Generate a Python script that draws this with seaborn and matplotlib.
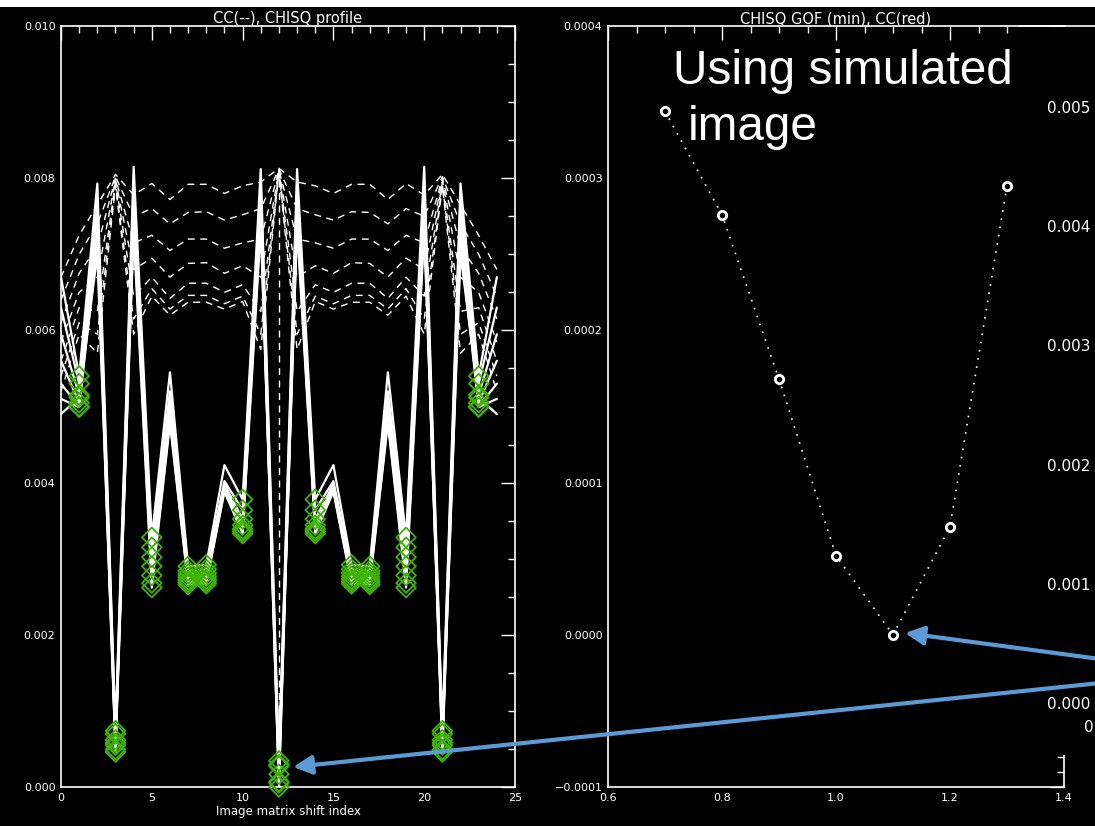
import matplotlib
matplotlib.use("Agg")
import matplotlib.pyplot as plt
from matplotlib.ticker import MultipleLocator, FuncFormatter
from matplotlib.patches import Rectangle, FancyArrowPatch
from matplotlib.lines import Line2D
import pandas as pd
import seaborn as sns

W, H = 1095, 826

# ---------------------------------------------------------------- data
shift_index = list(range(25))
scale_factors = [0.7, 0.8, 0.9, 1.0, 1.1, 1.2, 1.3]

# cross-correlation profiles (units of 1e-3), one per scale factor
cc_07 = [6.70, 7.25, 7.65, 8.05, 7.78, 7.93, 7.72, 7.92, 7.92, 7.80, 7.90, 7.95, 8.13,
         7.95, 7.90, 7.80, 7.92, 7.92, 7.72, 7.93, 7.78, 8.05, 7.65, 7.25, 6.80]
cc_08 = [6.40, 7.00, 7.40, 8.02, 7.50, 7.60, 7.40, 7.55, 7.56, 7.45, 7.52, 7.60, 8.12,
         7.60, 7.52, 7.45, 7.56, 7.55, 7.40, 7.60, 7.50, 8.02, 7.40, 7.00, 6.45]
cc_09 = [6.10, 6.75, 7.10, 8.00, 7.15, 7.25, 7.05, 7.20, 7.20, 7.08, 7.15, 7.20, 8.11,
         7.20, 7.15, 7.08, 7.20, 7.20, 7.05, 7.25, 7.15, 8.00, 7.10, 6.75, 6.15]
cc_10 = [5.85, 6.50, 6.70, 7.98, 6.80, 6.95, 6.70, 6.88, 6.89, 6.75, 6.85, 6.70, 8.10,
         6.70, 6.85, 6.75, 6.89, 6.88, 6.70, 6.95, 6.80, 7.98, 6.70, 6.50, 5.85]
cc_11 = [5.60, 6.30, 6.25, 7.95, 6.45, 6.70, 6.42, 6.62, 6.62, 6.50, 6.60, 6.25, 8.09,
         6.25, 6.60, 6.50, 6.62, 6.62, 6.42, 6.70, 6.45, 7.95, 6.25, 6.30, 5.60]
cc_12 = [5.40, 6.10, 5.95, 7.92, 6.15, 6.55, 6.28, 6.46, 6.46, 6.35, 6.45, 5.95, 8.08,
         5.95, 6.45, 6.35, 6.46, 6.46, 6.28, 6.55, 6.15, 7.92, 5.95, 6.10, 5.40]
cc_13 = [5.20, 5.95, 5.70, 7.90, 5.95, 6.45, 6.20, 6.37, 6.37, 6.28, 6.38, 5.75, 8.07,
         5.75, 6.38, 6.28, 6.37, 6.37, 6.20, 6.45, 5.95, 7.90, 5.70, 5.95, 5.20]

# chi-square profiles (units of 1e-3), one per scale factor
chisq_07 = [6.70, 5.40, 7.93, 0.74, 8.15, 3.28, 5.45, 2.90, 2.92, 4.23, 3.78, 8.12, 0.344,
            8.12, 3.78, 4.23, 2.92, 2.90, 5.45, 3.28, 8.15, 0.74, 7.93, 5.40, 6.70]
chisq_08 = [6.30, 5.30, 7.75, 0.70, 7.95, 3.15, 5.20, 2.84, 2.86, 4.02, 3.64, 7.95, 0.276,
            7.95, 3.64, 4.02, 2.86, 2.84, 5.20, 3.15, 7.95, 0.70, 7.75, 5.30, 6.30]
chisq_09 = [5.95, 5.15, 7.60, 0.62, 7.80, 3.02, 5.05, 2.80, 2.81, 3.98, 3.52, 7.80, 0.168,
            7.80, 3.52, 3.98, 2.81, 2.80, 5.05, 3.02, 7.80, 0.62, 7.60, 5.15, 5.95]
chisq_10 = [5.60, 5.05, 7.45, 0.55, 7.65, 2.90, 4.95, 2.76, 2.77, 3.95, 3.44, 7.65, 0.052,
            7.65, 3.44, 3.95, 2.77, 2.76, 4.95, 2.90, 7.65, 0.55, 7.45, 5.05, 5.60]
chisq_11 = [5.30, 5.00, 7.30, 0.49, 7.50, 2.78, 4.88, 2.72, 2.73, 3.92, 3.39, 7.55, 0.000,
            7.55, 3.39, 3.92, 2.73, 2.72, 4.88, 2.78, 7.50, 0.49, 7.30, 5.00, 5.30]
chisq_12 = [5.10, 4.99, 7.15, 0.46, 7.40, 2.68, 4.82, 2.69, 2.70, 3.90, 3.36, 7.45, 0.071,
            7.45, 3.36, 3.90, 2.70, 2.69, 4.82, 2.68, 7.40, 0.46, 7.15, 4.99, 5.10]
chisq_13 = [4.90, 5.12, 7.00, 0.58, 7.30, 2.62, 4.78, 2.66, 2.67, 3.88, 3.33, 7.35, 0.295,
            7.35, 3.33, 3.88, 2.67, 2.66, 4.78, 2.62, 7.30, 0.58, 7.00, 5.12, 4.90]

# shifts flagged as local minima of the chi-square profile
minimum_shifts = [1, 3, 5, 7, 8, 10, 12, 14, 16, 17, 19, 21, 23]

# best shift marker
best_shift = 12
cc_peak = 0.0081

# minimum chi-square goodness of fit for each scale factor
chisq_gof_min = [0.000344, 0.000276, 0.000168, 0.000052, 0.000000, 0.000071, 0.000295]

# tick labels of the neighbouring CC panel
cc_panel_ticks = [0.000, 0.001, 0.002, 0.003, 0.004, 0.005]

cc_series = [cc_07, cc_08, cc_09, cc_10, cc_11, cc_12, cc_13]
chisq_series = [chisq_07, chisq_08, chisq_09, chisq_10, chisq_11, chisq_12, chisq_13]

rows = []
for s, cc, chi in zip(scale_factors, cc_series, chisq_series):
    for i in shift_index:
        rows.append({"scale": s, "shift": i, "cc": cc[i] * 1e-3, "chisq": chi[i] * 1e-3})
profiles = pd.DataFrame(rows)
minima = profiles[profiles["shift"].isin(minimum_shifts)]
gof = pd.DataFrame({"scale": scale_factors, "gof": chisq_gof_min})

# ---------------------------------------------------------------- style
sns.set_theme(style="dark", rc={
    "figure.facecolor": "black", "axes.facecolor": "black",
    "axes.edgecolor": "white", "text.color": "white",
    "xtick.color": "white", "ytick.color": "white",
    "axes.labelcolor": "white", "axes.grid": False,
    "axes.linewidth": 1.2,
})
plt.rcParams["font.family"] = ["DejaVu Sans"]

fig = plt.figure(figsize=(W / 100, H / 100), dpi=100)


def box(x0, x1, y0, y1):
    return [x0 / W, 1 - y1 / H, (x1 - x0) / W, (y1 - y0) / H]


def fx(px):
    return px / W


def fy(py):
    return 1 - py / H


ax1 = fig.add_axes(box(61, 515, 26, 787))
ax2 = fig.add_axes(box(608, 1064, 26, 787))

GREEN = "#3cb400"
BLUE = "#5b9bd5"

# ---------------------------------------------------------------- left panel
sns.lineplot(data=profiles, x="shift", y="cc", units="scale", estimator=None,
             color="white", lw=1.0, linestyle=(0, (5, 4)), ax=ax1, legend=False)
sns.lineplot(data=profiles, x="shift", y="chisq", units="scale", estimator=None,
             color="white", lw=1.6, ax=ax1, legend=False)
ax1.plot([best_shift, best_shift], [0, cc_peak], color="white", lw=1.0,
         linestyle=(0, (5, 4)))
sns.scatterplot(data=minima, x="shift", y="chisq", marker="D", s=100,
                facecolors="none", edgecolor=GREEN, linewidth=1.3,
                clip_on=False, zorder=4, ax=ax1, legend=False)

ax1.set_xlim(0, 25)
ax1.set_ylim(0, 0.010)
ax1.xaxis.set_major_locator(MultipleLocator(5))
ax1.xaxis.set_minor_locator(MultipleLocator(1))
ax1.yaxis.set_major_locator(MultipleLocator(0.002))
ax1.yaxis.set_minor_locator(MultipleLocator(0.0005))
ax1.xaxis.set_major_formatter(FuncFormatter(lambda v, p: f"{v:.0f}"))
ax1.yaxis.set_major_formatter(FuncFormatter(lambda v, p: f"{abs(v):.3f}"))
ax1.set_title("CC(--), CHISQ profile", fontsize=10.5, pad=2, color="white")
ax1.set_xlabel("Image matrix shift index", fontsize=8.5, labelpad=2)
ax1.set_ylabel("")

# ---------------------------------------------------------------- right panel
sns.lineplot(data=gof, x="scale", y="gof", color="white", lw=1.2,
             linestyle=(0, (1, 4)), marker="o", markersize=6,
             markerfacecolor="black", markeredgecolor="white",
             markeredgewidth=2.0, ax=ax2, legend=False)
ax2.set_xlim(0.6, 1.4)
ax2.set_ylim(-0.0001, 0.0004)
ax2.xaxis.set_major_locator(MultipleLocator(0.2))
ax2.xaxis.set_minor_locator(MultipleLocator(0.05))
ax2.yaxis.set_major_locator(MultipleLocator(0.0001))
ax2.yaxis.set_minor_locator(MultipleLocator(0.00001))
ax2.xaxis.set_major_formatter(FuncFormatter(lambda v, p: f"{v:.1f}"))


def fmt4(v, p):
    if abs(v) < 1e-12:
        v = 0.0
    return f"{v:.4f}".replace("-", "\u2212")


ax2.yaxis.set_major_formatter(FuncFormatter(fmt4))
ax2.set_title("CHISQ GOF (min), CC(red)", fontsize=10.5, pad=2, color="white")
ax2.set_xlabel("")
ax2.set_ylabel("")

for ax in (ax1, ax2):
    ax.tick_params(which="both", direction="in", top=True, right=True,
                   color="white", width=1.0, labelsize=8, pad=4)
    ax.tick_params(which="major", length=10)
    ax.tick_params(which="minor", length=5)
    for sp in ax.spines.values():
        sp.set_color("white")
        sp.set_linewidth(1.2)

# ---------------------------------------------------------------- neighbouring panel
fig.add_artist(Rectangle((fx(1020), fy(755)), fx(1095) - fx(1020), fy(27) - fy(755),
                         transform=fig.transFigure, facecolor="black",
                         edgecolor="none", zorder=5))
fig.add_artist(Line2D([fx(1020), fx(1095)], [fy(26), fy(26)], color="white",
                      lw=1.2, transform=fig.transFigure, zorder=6))
ax3 = fig.add_axes(box(1045, 1095, 26, 787), zorder=7)
ax3.set_ylim(-0.000687, 0.005687)
ax3.set_xlim(0, 1)
ax3.axis("off")
for v in cc_panel_ticks:
    ax3.text(0.04, v, f"{v:.3f}", fontsize=11, color="white", ha="left",
             va="center", clip_on=False)
fig.text(fx(1084), fy(728), "0", fontsize=11, color="white", ha="left",
         va="center", zorder=7)

# white strip along the top edge
fig.add_artist(Rectangle((0, fy(7)), 1, 1 - fy(7), transform=fig.transFigure,
                         facecolor="white", edgecolor="none", zorder=8))

# ---------------------------------------------------------------- annotations
fig.text(fx(673), fy(84), "Using simulated", fontsize=34.4, color="white",
         family=["Liberation Sans", "DejaVu Sans"], va="baseline", zorder=9)
fig.text(fx(688), fy(140), "image", fontsize=34.4, color="white",
         family=["Liberation Sans", "DejaVu Sans"], va="baseline", zorder=9)

for tip, tail in [((905, 633), (1100, 659)), ((293, 767), (1100, 683))]:
    fig.add_artist(FancyArrowPatch(
        (fx(tail[0]), fy(tail[1])), (fx(tip[0]), fy(tip[1])),
        transform=fig.transFigure, arrowstyle="-|>", mutation_scale=28,
        lw=3, color=BLUE, shrinkA=0, shrinkB=0, zorder=10))

fig.savefig("out.png", dpi=100, facecolor="black")
